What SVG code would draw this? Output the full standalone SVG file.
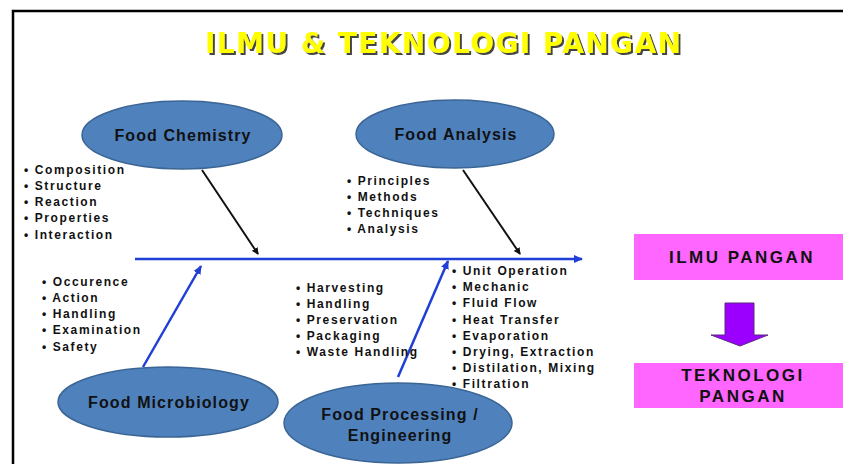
<svg xmlns="http://www.w3.org/2000/svg" width="843" height="464" viewBox="0 0 843 464">
<style>
.ell{fill:#4f81bd;stroke:#3a6594;stroke-width:1.5}
.lbl{font-family:"Liberation Sans",Arial,sans-serif;font-weight:bold;font-size:16px;letter-spacing:1.1px;fill:#111;text-anchor:middle}
.lst{font-family:"Liberation Sans",Arial,sans-serif;font-weight:bold;font-size:12px;letter-spacing:1.6px;fill:#111}
.box{fill:#ff66ff}
.btx{font-family:"Liberation Sans",Arial,sans-serif;font-weight:bold;font-size:17px;letter-spacing:2.5px;fill:#111;text-anchor:middle}
.blk{stroke:#111;stroke-width:2;fill:none}
.blu{stroke:#1f3fd6;stroke-width:2.5;fill:none}
</style>
<defs>
<marker id="ah-k" markerWidth="8" markerHeight="8" refX="6" refY="4" orient="auto" markerUnits="userSpaceOnUse"><path d="M0,0.5 L7,4 L0,7.5 Z" fill="#111"/></marker>
<marker id="ah-b" markerWidth="10" markerHeight="10" refX="8" refY="5" orient="auto" markerUnits="userSpaceOnUse"><path d="M0,1 L9,5 L0,9 Z" fill="#1f3fd6"/></marker>
<filter id="shadow" x="-5%" y="-20%" width="110%" height="150%">
<feDropShadow dx="2" dy="2" stdDeviation="0.4" flood-color="#444" flood-opacity="1"/>
</filter>
</defs>
<rect width="843" height="464" fill="#fff"/>
<g id="frame"><path d="M13,464 L13,11 L843,11" stroke="#000" stroke-width="2.5" fill="none"/></g>

<g id="title" font-family="DejaVu Sans,Verdana,sans-serif" font-weight="bold" font-size="28">
<text x="205" y="53" fill="#ffff00" filter="url(#shadow)" textLength="476" lengthAdjust="spacing">ILMU &amp; TEKNOLOGI PANGAN</text>
</g>

<g id="connectors">
<line class="blu" x1="135" y1="259" x2="582" y2="259" marker-end="url(#ah-b)"/>
<line class="blk" x1="202" y1="170" x2="258" y2="254" marker-end="url(#ah-k)"/>
<line class="blk" x1="463" y1="170" x2="520" y2="254" marker-end="url(#ah-k)"/>
<line class="blu" x1="143" y1="367" x2="201" y2="266" marker-end="url(#ah-b)"/>
<line class="blu" x1="398" y1="377" x2="448" y2="261" marker-end="url(#ah-b)"/>
</g>

<g id="food-chemistry">
<ellipse class="ell" cx="182" cy="135" rx="100" ry="34"/>
<text class="lbl" x="183" y="141">Food Chemistry</text>
</g>
<g id="food-analysis">
<ellipse class="ell" cx="455" cy="134" rx="99" ry="34"/>
<text class="lbl" x="456" y="140">Food Analysis</text>
</g>
<g id="food-microbiology">
<ellipse class="ell" cx="168" cy="402" rx="110" ry="35"/>
<text class="lbl" x="169" y="408">Food Microbiology</text>
</g>
<g id="food-processing">
<ellipse class="ell" cx="398" cy="423" rx="114" ry="40"/>
<text class="lbl" x="400" y="420">Food Processing /</text>
<text class="lbl" x="400" y="441">Engineering</text>
</g>

<g id="list-chemistry" class="lst">
<text x="24" y="174">• Composition</text>
<text x="24" y="190">• Structure</text>
<text x="24" y="206">• Reaction</text>
<text x="24" y="222">• Properties</text>
<text x="24" y="239">• Interaction</text>
</g>
<g id="list-analysis" class="lst">
<text x="347" y="185">• Principles</text>
<text x="347" y="201">• Methods</text>
<text x="347" y="217">• Techniques</text>
<text x="347" y="233">• Analysis</text>
</g>
<g id="list-microbiology" class="lst">
<text x="42" y="286">• Occurence</text>
<text x="42" y="302">• Action</text>
<text x="42" y="318">• Handling</text>
<text x="42" y="334">• Examination</text>
<text x="42" y="351">• Safety</text>
</g>
<g id="list-processing" class="lst">
<text x="296" y="292">• Harvesting</text>
<text x="296" y="308">• Handling</text>
<text x="296" y="324">• Preservation</text>
<text x="296" y="340">• Packaging</text>
<text x="296" y="356">• Waste Handling</text>
</g>
<g id="list-engineering" class="lst">
<text x="452" y="275">• Unit Operation</text>
<text x="452" y="291">• Mechanic</text>
<text x="452" y="307">• Fluid Flow</text>
<text x="452" y="324">• Heat Transfer</text>
<text x="452" y="340">• Evaporation</text>
<text x="452" y="356">• Drying, Extraction</text>
<text x="452" y="372">• Distilation, Mixing</text>
<text x="452" y="388">• Filtration</text>
</g>

<g id="ilmu-pangan">
<rect class="box" x="634" y="234" width="209" height="46"/>
<text class="btx" x="742" y="263">ILMU PANGAN</text>
</g>
<g id="down-arrow">
<path d="M725,303 L754,303 L754,335 L768,335 L740,346 L711,335 L725,335 Z" fill="#9b00ff" stroke="#5a2a80" stroke-width="1"/>
</g>
<g id="teknologi-pangan">
<rect class="box" x="634" y="363" width="209" height="45"/>
<text class="btx" x="743" y="381">TEKNOLOGI</text>
<text class="btx" x="743" y="402">PANGAN</text>
</g>
</svg>
